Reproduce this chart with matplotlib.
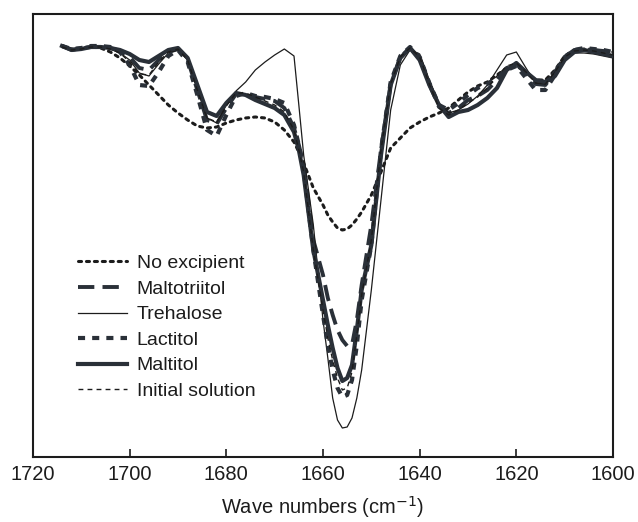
import matplotlib
matplotlib.use("Agg")
import matplotlib.pyplot as plt
from matplotlib.lines import Line2D

plt.rcParams['font.family'] = ['Liberation Sans', 'DejaVu Sans']

# Wavenumbers (cm-1)
wavenumber = [1714, 1712, 1710, 1708, 1706, 1704, 1702, 1700, 1698, 1696,
              1694, 1692, 1690, 1688, 1686, 1684, 1682, 1680, 1678, 1676,
              1674, 1672, 1670, 1668, 1666, 1665, 1664, 1662, 1660, 1659, 1658,
              1657, 1656, 1655, 1654, 1653, 1652, 1650, 1648, 1646, 1644,
              1642, 1640, 1638, 1636,
              1634, 1632, 1630, 1628, 1626, 1624, 1622, 1620, 1618, 1616,
              1614, 1612, 1610, 1608, 1606, 1604, 1602, 1600]

# Signal (arbitrary units, band pointing downwards)
no_excipient = [46, 49, 48, 47, 48, 52, 58, 66, 75, 85,
                95, 105, 113, 120, 126, 128, 127, 123, 120, 118,
                117, 118, 122, 130, 142, 152, 163, 188, 205, 215, 222,
                228, 230, 229, 225, 219, 212, 195, 172, 148, 138,
                128, 122, 117, 113,
                108, 100, 92, 86, 82, 75, 68, 66, 72, 80,
                80, 70, 56, 50, 49, 50, 51, 52]
maltotriitol = [46, 50, 48, 47, 47, 48, 51, 57, 68, 70,
                60, 52, 49, 60, 90, 120, 124, 108, 94, 94,
                97, 99, 101, 108, 128, 145, 165, 240, 275, 298, 315,
                330, 340, 346, 345, 320, 285, 225, 150, 84, 57,
                48, 58, 84, 107,
                113, 108, 100, 96, 90, 80, 68, 64, 73, 84,
                85, 72, 57, 50, 49, 50, 51, 53]
trehalose = [46, 49, 48, 47, 47, 49, 53, 60, 73, 76,
             64, 53, 50, 60, 90, 118, 123, 105, 91, 82,
             70, 62, 55, 49, 56, 105, 155, 225, 320, 358, 398,
             420, 428, 427, 418, 398, 370, 290, 200, 110, 65,
             50, 54, 80, 103,
             113, 110, 104, 96, 85, 70, 55, 52, 68, 83,
             84, 72, 58, 53, 53, 54, 56, 58]
lactitol = [46, 49, 48, 46, 46, 47, 52, 65, 85, 86,
            72, 56, 50, 62, 95, 130, 136, 115, 96, 93,
            96, 97, 99, 103, 125, 145, 170, 250, 315, 345, 370,
            388, 397, 395, 380, 345, 300, 245, 150, 82, 56,
            47, 57, 83, 105,
            110, 103, 95, 88, 84, 78, 70, 66, 78, 90,
            90, 75, 57, 50, 48, 49, 50, 52]
maltitol = [46, 50, 49, 47, 47, 48, 50, 54, 60, 62,
            56, 50, 48, 58, 85, 112, 116, 103, 93, 95,
            100, 104, 108, 115, 132, 150, 175, 250, 300, 325, 348,
            368, 381, 378, 365, 330, 290, 245, 155, 85, 58,
            48, 60, 85, 105,
            117, 112, 110, 105, 98, 88, 70, 63, 72, 80,
            82, 76, 60, 52, 50, 52, 54, 56]
initial_solution = [47, 50, 49, 47, 47, 49, 53, 62, 74, 75,
                    62, 52, 49, 60, 90, 118, 122, 106, 93, 93,
                    97, 101, 105, 112, 130, 150, 172, 250, 310, 338, 360,
                    378, 390, 388, 372, 335, 295, 240, 150, 84, 57,
                    48, 57, 84, 108,
                    115, 110, 103, 97, 88, 76, 66, 63, 72, 83,
                    84, 72, 57, 51, 50, 51, 53, 55]

labels = ["No excipient", "Maltotriitol", "Trehalose", "Lactitol",
          "Maltitol", "Initial solution"]
xticks = [1720, 1700, 1680, 1660, 1640, 1620, 1600]

dark = "#2a3038"
black = "#1c1c1c"

fig = plt.figure(figsize=(6.38, 5.22), dpi=100)
ax = fig.add_axes([33/638, 65/522, 580/638, 443/522])

styles = [
    dict(color=black, lw=2.2, ls=(0, (1.0, 1.6)), dash_capstyle='round'),
    dict(color=dark, lw=2.8, ls=(0, (4.2, 2.1))),
    dict(color=black, lw=0.9, ls='-'),
    dict(color=dark, lw=3.0, ls=(0, (1.7, 1.7))),
    dict(color=dark, lw=3.0, ls='-'),
    dict(color=black, lw=1.0, ls=(0, (3.5, 3.0))),
]
series = [no_excipient, maltotriitol, trehalose, lactitol, maltitol, initial_solution]
order = [2, 5, 0, 1, 4, 3]
for i in order:
    ax.plot(wavenumber, series[i], zorder=2 + i, solid_joinstyle='round', **styles[i])

ax.set_xlim(1720, 1600)
ax.set_ylim(457, 14)
ax.set_xticks(xticks)
ax.set_yticks([])
ax.tick_params(axis='x', direction='in', length=6, width=1.2, pad=6,
               labelsize=14.5, colors=black)
for s in ax.spines.values():
    s.set_linewidth(1.5)
    s.set_color(black)
ax.set_xlabel("Wave numbers (cm$^{-1}$)", fontsize=14.5, color=black, labelpad=7)

handles = [Line2D([], [], **st) for st in styles]
leg = ax.legend(handles, labels, loc='upper left', bbox_to_anchor=(0.078, 0.457),
                frameon=False, fontsize=14, handlelength=2.5, handletextpad=0.5,
                labelspacing=0.41, borderpad=0, borderaxespad=0)
for t in leg.get_texts():
    t.set_color(black)

fig.savefig("out.png", dpi=100)
